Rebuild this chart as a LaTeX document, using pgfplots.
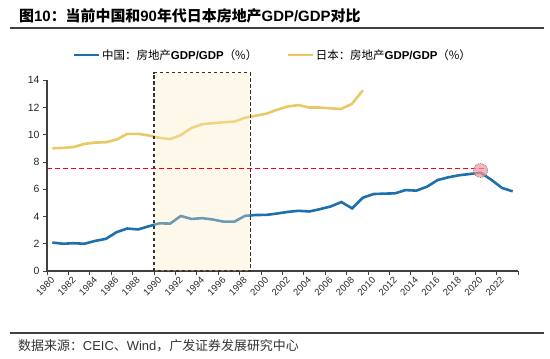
\documentclass[border=0pt]{standalone}
\usepackage{fontspec}
\setmainfont{Liberation Sans}
\newfontfamily\cjk{Noto Sans CJK SC}
\usepackage{pgfplots}
\pgfplotsset{compat=1.18}
\definecolor{cnblue}{RGB}{31,111,172}
\definecolor{jpyellow}{RGB}{234,200,102}
\definecolor{boxfill}{RGB}{252,236,195}
\definecolor{pinkc}{RGB}{246,150,160}
\definecolor{axgray}{RGB}{64,64,64}
\pgfplotstableread{
year val
1980 2.09
1981 2.00
1982 2.04
1983 2.00
1984 2.21
1985 2.36
1986 2.85
1987 3.12
1988 3.05
1989 3.28
1990 3.50
1991 3.48
1992 4.04
1993 3.82
1994 3.88
1995 3.78
1996 3.62
1997 3.62
1998 4.05
1999 4.11
2000 4.12
2001 4.22
2002 4.34
2003 4.42
2004 4.37
2005 4.54
2006 4.74
2007 5.06
2008 4.60
2009 5.38
2010 5.65
2011 5.68
2012 5.70
2013 5.94
2014 5.90
2015 6.19
2016 6.68
2017 6.88
2018 7.03
2019 7.12
2020 7.22
2021 6.70
2022 6.10
2023 5.85
}\china
\pgfplotstableread{
year val
1980 9.01
1981 9.04
1982 9.10
1983 9.33
1984 9.43
1985 9.45
1986 9.65
1987 10.07
1988 10.07
1989 9.95
1990 9.78
1991 9.68
1992 9.98
1993 10.50
1994 10.78
1995 10.85
1996 10.92
1997 10.97
1998 11.25
1999 11.40
2000 11.55
2001 11.84
2002 12.08
2003 12.18
2004 12.00
2005 12.00
2006 11.94
2007 11.90
2008 12.28
2009 13.26
}\japan
\begin{document}
\begin{tikzpicture}[x=1bp,y=1bp]
\path[use as bounding box] (0,0) rectangle (550,358);
\node[anchor=west, inner sep=0] at (19,342) {\fontsize{15}{17}\selectfont\bfseries {\cjk 图}10{\cjk ：当前中国和}90{\cjk 年代日本房地产}GDP/GDP{\cjk 对比}};
\draw[line width=1.6bp, axgray] (10,330) -- (544,330);
\draw[line width=1.2bp, axgray] (10,25) -- (544,25);
\node[anchor=west, inner sep=0, text=black!80] at (18,12) {\fontsize{13}{15}\selectfont{\cjk 数据来源：}CEIC{\cjk 、}Wind{\cjk ，广发证券发展研究中心}};
\begin{axis}[
  at={(47bp,87bp)}, anchor=south west, scale only axis,
  width=471bp, height=190.7bp,
  xmin=1979.5, xmax=2023.5, ymin=0, ymax=14,
  clip=false,
  axis x line*=bottom, axis y line*=left,
  axis line style={-, line width=1.2bp, axgray},
  tick align=outside,
  ytick={0,2,...,14},
  xtick={1980,1982,...,2022},
  minor xtick={1979.5,1981.5,...,2023.5},
  major x tick style={draw=none},
  minor tick length=4bp, major tick length=4bp,
  every tick/.style={axgray, line width=1bp},
  /pgf/number format/assume math mode=true,
  xticklabel style={/pgf/number format/1000 sep={}, rotate=45, anchor=east, font=\fontsize{9.5}{11}\selectfont, text=black!85, yshift=-3bp, xshift=1bp},
  yticklabel style={font=\fontsize{10.5}{12}\selectfont, text=black!85},
  legend style={at={(axis description cs:0.055,1.133)}, anchor=west, draw=none, fill=none, inner sep=0pt,
    legend columns=2, font=\fontsize{11.5}{13}\selectfont,
    /tikz/every even column/.append style={column sep=28bp},
    nodes={inner sep=1.5bp}},
  legend image code/.code={\draw[#1] (0bp,0bp) -- (25bp,0bp);},
]
\addplot[cnblue, line width=2.6bp] table[x=year,y=val] {\china};
\addlegendentry{{\cjk 中国：房地产}\textbf{GDP/GDP}{\cjk （\%）}}
\addplot[jpyellow, line width=2.6bp] table[x=year,y=val] {\japan};
\addlegendentry{{\cjk 日本：房地产}\textbf{GDP/GDP}{\cjk （\%）}}
\addplot[forget plot, draw=none, fill=boxfill, fill opacity=0.35] coordinates {(1989.5,0) (1989.5,14.55) (1998.5,14.55) (1998.5,0)} -- cycle;
\addplot[forget plot, black!80, line width=1.2bp, dash pattern=on 3.5bp off 2.5bp] coordinates {(1989.5,0) (1989.5,14.55) (1998.5,14.55) (1998.5,0)} -- cycle;
\addplot[forget plot, red, line width=1.2bp, dash pattern=on 5bp off 3bp] coordinates {(1979.5,7.5) (2020.4,7.5)};
\addplot[forget plot, only marks, mark=*, mark size=7bp, mark options={fill=pinkc, fill opacity=0.7, draw=gray, densely dotted, line width=0.8bp}] coordinates {(2020,7.38)};
\end{axis}
\end{tikzpicture}
\end{document}
